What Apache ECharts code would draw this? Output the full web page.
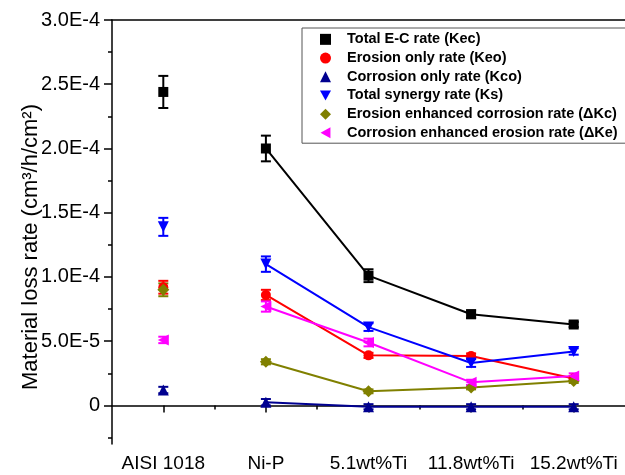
<!DOCTYPE html>
<html>
<head>
<meta charset="utf-8">
<script src="https://cdn.jsdelivr.net/npm/echarts@6/dist/echarts.min.js"></script>
<style>
  html, body { margin: 0; padding: 0; background: #fff; }
  #chart { width: 625px; height: 475px; }
</style>
</head>
<body>
<div id="chart"></div>
<script>
// categories sit at x = 1..5 on a value axis (so minor ticks can go between them)
const categories = ["AISI 1018", "Ni-P", "5.1wt%Ti", "11.8wt%Ti", "15.2wt%Ti"];
const categoryPos = [1, 2, 3, 4, 5];
const xMinorTicks = [1.5, 2.5, 3.5, 4.5];

const yTickValues = [0, 5e-5, 1e-4, 1.5e-4, 2e-4, 2.5e-4, 3e-4];
const yTickLabels = ["0", "5.0E-5", "1.0E-4", "1.5E-4", "2.0E-4", "2.5E-4", "3.0E-4"];
const yMinorTicks = [-2.5e-5, 2.5e-5, 7.5e-5, 1.25e-4, 1.75e-4, 2.25e-4, 2.75e-4];

// rates (cm3/h/cm2) and +/- error
const kec = [2.44e-4, 2.00e-4, 1.01e-4, 7.1e-5, 6.3e-5];
const kecErr = [1.25e-5, 1.0e-5, 0.5e-5, 0.3e-5, 0.2e-5];
const keo = [9.2e-5, 8.6e-5, 3.9e-5, 3.85e-5, 2.1e-5];
const keoErr = [0.5e-5, 0.4e-5, 0.2e-5, 0.2e-5, 0.2e-5];
const kco = [1.2e-5, 2.5e-6, -1e-6, -1e-6, -1e-6];
const kcoErr = [0.25e-5, 0.25e-5, 0.2e-5, 0.2e-5, 0.2e-5];
const ks = [1.39e-4, 1.10e-4, 6.1e-5, 3.3e-5, 4.2e-5];
const ksErr = [0.7e-5, 0.6e-5, 0.3e-5, 0.3e-5, 0.25e-5];
const dKc = [9.0e-5, 3.4e-5, 1.1e-5, 1.4e-5, 1.9e-5];
const dKcErr = [0.5e-5, 0.2e-5, 0.15e-5, 0.15e-5, 0.15e-5];
const dKe = [5.1e-5, 7.7e-5, 4.9e-5, 1.8e-5, 2.3e-5];
const dKeErr = [0.25e-5, 0.4e-5, 0.3e-5, 0.2e-5, 0.2e-5];

const FONT = "Liberation Sans, Arial, sans-serif";
const DOWN = "path://M0,0L2,0L1,1.8Z";
const LEFT = "path://M1.8,0L1.8,2L0,1Z";

const groups = [
  { name: "Total E-C rate (Kec)", values: kec, errors: kecErr, color: "#000000", symbol: "rect", size: 10 },
  { name: "Erosion only rate (Keo)", values: keo, errors: keoErr, color: "#ff0000", symbol: "circle", size: 10 },
  { name: "Corrosion only rate (Kco)", values: kco, errors: kcoErr, color: "#000090", symbol: "triangle", size: 11 },
  { name: "Total synergy rate (Ks)", values: ks, errors: ksErr, color: "#0000ff", symbol: DOWN, size: 11 },
  { name: "Erosion enhanced corrosion rate (\u0394Kc)", values: dKc, errors: dKcErr, color: "#808000", symbol: "diamond", size: 12 },
  { name: "Corrosion enhanced erosion rate (\u0394Ke)", values: dKe, errors: dKeErr, color: "#ff00ff", symbol: LEFT, size: 11 },
];

const series = [];
groups.forEach(g => {
  // error bars
  series.push({
    type: "custom",
    silent: true,
    z: 2,
    data: categoryPos.map((x, i) => [x, g.values[i], g.errors[i]]),
    encode: { x: 0, y: 1 },
    renderItem: (params, api) => {
      const x = api.value(0), y = api.value(1), e = api.value(2);
      const top = api.coord([x, y + e]);
      const bot = api.coord([x, y - e]);
      const st = { stroke: g.color, lineWidth: 2 };
      return {
        type: "group",
        children: [
          { type: "line", shape: { x1: top[0], y1: top[1], x2: bot[0], y2: bot[1] }, style: st },
          { type: "line", shape: { x1: top[0] - 5, y1: top[1], x2: top[0] + 5, y2: top[1] }, style: st },
          { type: "line", shape: { x1: bot[0] - 5, y1: bot[1], x2: bot[0] + 5, y2: bot[1] }, style: st },
        ],
      };
    },
  });
  // AISI 1018 point is not joined to the coatings
  series.push({
    name: g.name,
    type: "scatter",
    z: 3,
    symbol: g.symbol,
    symbolSize: g.size,
    itemStyle: { color: g.color, opacity: 1 },
    data: [[categoryPos[0], g.values[0]]],
  });
  series.push({
    name: g.name,
    type: "line",
    z: 3,
    symbol: g.symbol,
    symbolSize: g.size,
    showSymbol: true,
    itemStyle: { color: g.color, opacity: 1 },
    lineStyle: { color: g.color, width: 2 },
    data: categoryPos.slice(1).map((x, i) => [x, g.values[i + 1]]),
  });
});

const axisLine = { show: true, lineStyle: { color: "#000", width: 1.5 } };

const option = {
  animation: false,
  backgroundColor: "#fff",
  grid: { left: 112, right: -6, top: 20, bottom: 31 },
  legend: {
    orient: "vertical",
    left: 302,
    top: 28,
    padding: [2, 40, 1, 18],
    itemWidth: 11,
    itemHeight: 11,
    itemGap: 0,
    borderColor: "#555",
    borderWidth: 1,
    backgroundColor: "#fff",
    selectedMode: false,
    itemStyle: { opacity: 1 },
    textStyle: { fontFamily: FONT, fontWeight: "bold", fontSize: 14.5, color: "#000", lineHeight: 18.7, padding: [0, 0, 0, 11] },
    data: groups.map(g => ({ name: g.name, icon: g.symbol })),
  },
  xAxis: [
    {
      type: "value",
      min: 0.5,
      max: 5.5,
      splitLine: { show: false },
      axisLine,
      axisTick: { show: true, customValues: categoryPos, length: 7, lineStyle: { color: "#000", width: 1.5 } },
      axisLabel: {
        customValues: categoryPos,
        formatter: v => categories[categoryPos.indexOf(Math.round(v))],
        fontFamily: FONT, fontSize: 19, color: "#000", margin: 10,
      },
    },
    {
      type: "value",
      min: 0.5,
      max: 5.5,
      position: "bottom",
      splitLine: { show: false },
      axisLine: { show: false },
      axisTick: { show: true, customValues: xMinorTicks, length: 4, lineStyle: { color: "#000", width: 1.5 } },
      axisLabel: { show: false },
    },
    {
      type: "value",
      min: 0.5,
      max: 5.5,
      position: "top",
      splitLine: { show: false },
      axisLine,
      axisTick: { show: false },
      axisLabel: { show: false },
    },
  ],
  yAxis: [
    {
      type: "value",
      min: -3e-5,
      max: 3e-4,
      position: "left",
      splitLine: { show: false },
      axisLine,
      axisTick: { show: true, customValues: yTickValues, length: 8, lineStyle: { color: "#000", width: 1.5 } },
      axisLabel: {
        customValues: yTickValues,
        formatter: v => {
          let best = 0;
          yTickValues.forEach((t, i) => { if (Math.abs(t - v) < Math.abs(yTickValues[best] - v)) best = i; });
          return yTickLabels[best];
        },
        fontFamily: FONT, fontSize: 20, color: "#000", margin: 12,
      },
      name: "Material loss rate (cm\u00b3/h/cm\u00b2)",
      nameLocation: "middle",
      nameGap: 70,
      nameMoveOverlap: false,
      nameTextStyle: { fontFamily: FONT, fontSize: 22, color: "#000", padding: [0, 30, 0, 0] },
    },
    {
      type: "value",
      min: -3e-5,
      max: 3e-4,
      position: "left",
      splitLine: { show: false },
      axisLine: { show: false },
      axisTick: { show: true, customValues: yMinorTicks, length: 4, lineStyle: { color: "#000", width: 1.5 } },
      axisLabel: { show: false },
    },
  ],
  series,
};

const chart = echarts.init(document.getElementById("chart"));
chart.setOption(option);
</script>
</body>
</html>
